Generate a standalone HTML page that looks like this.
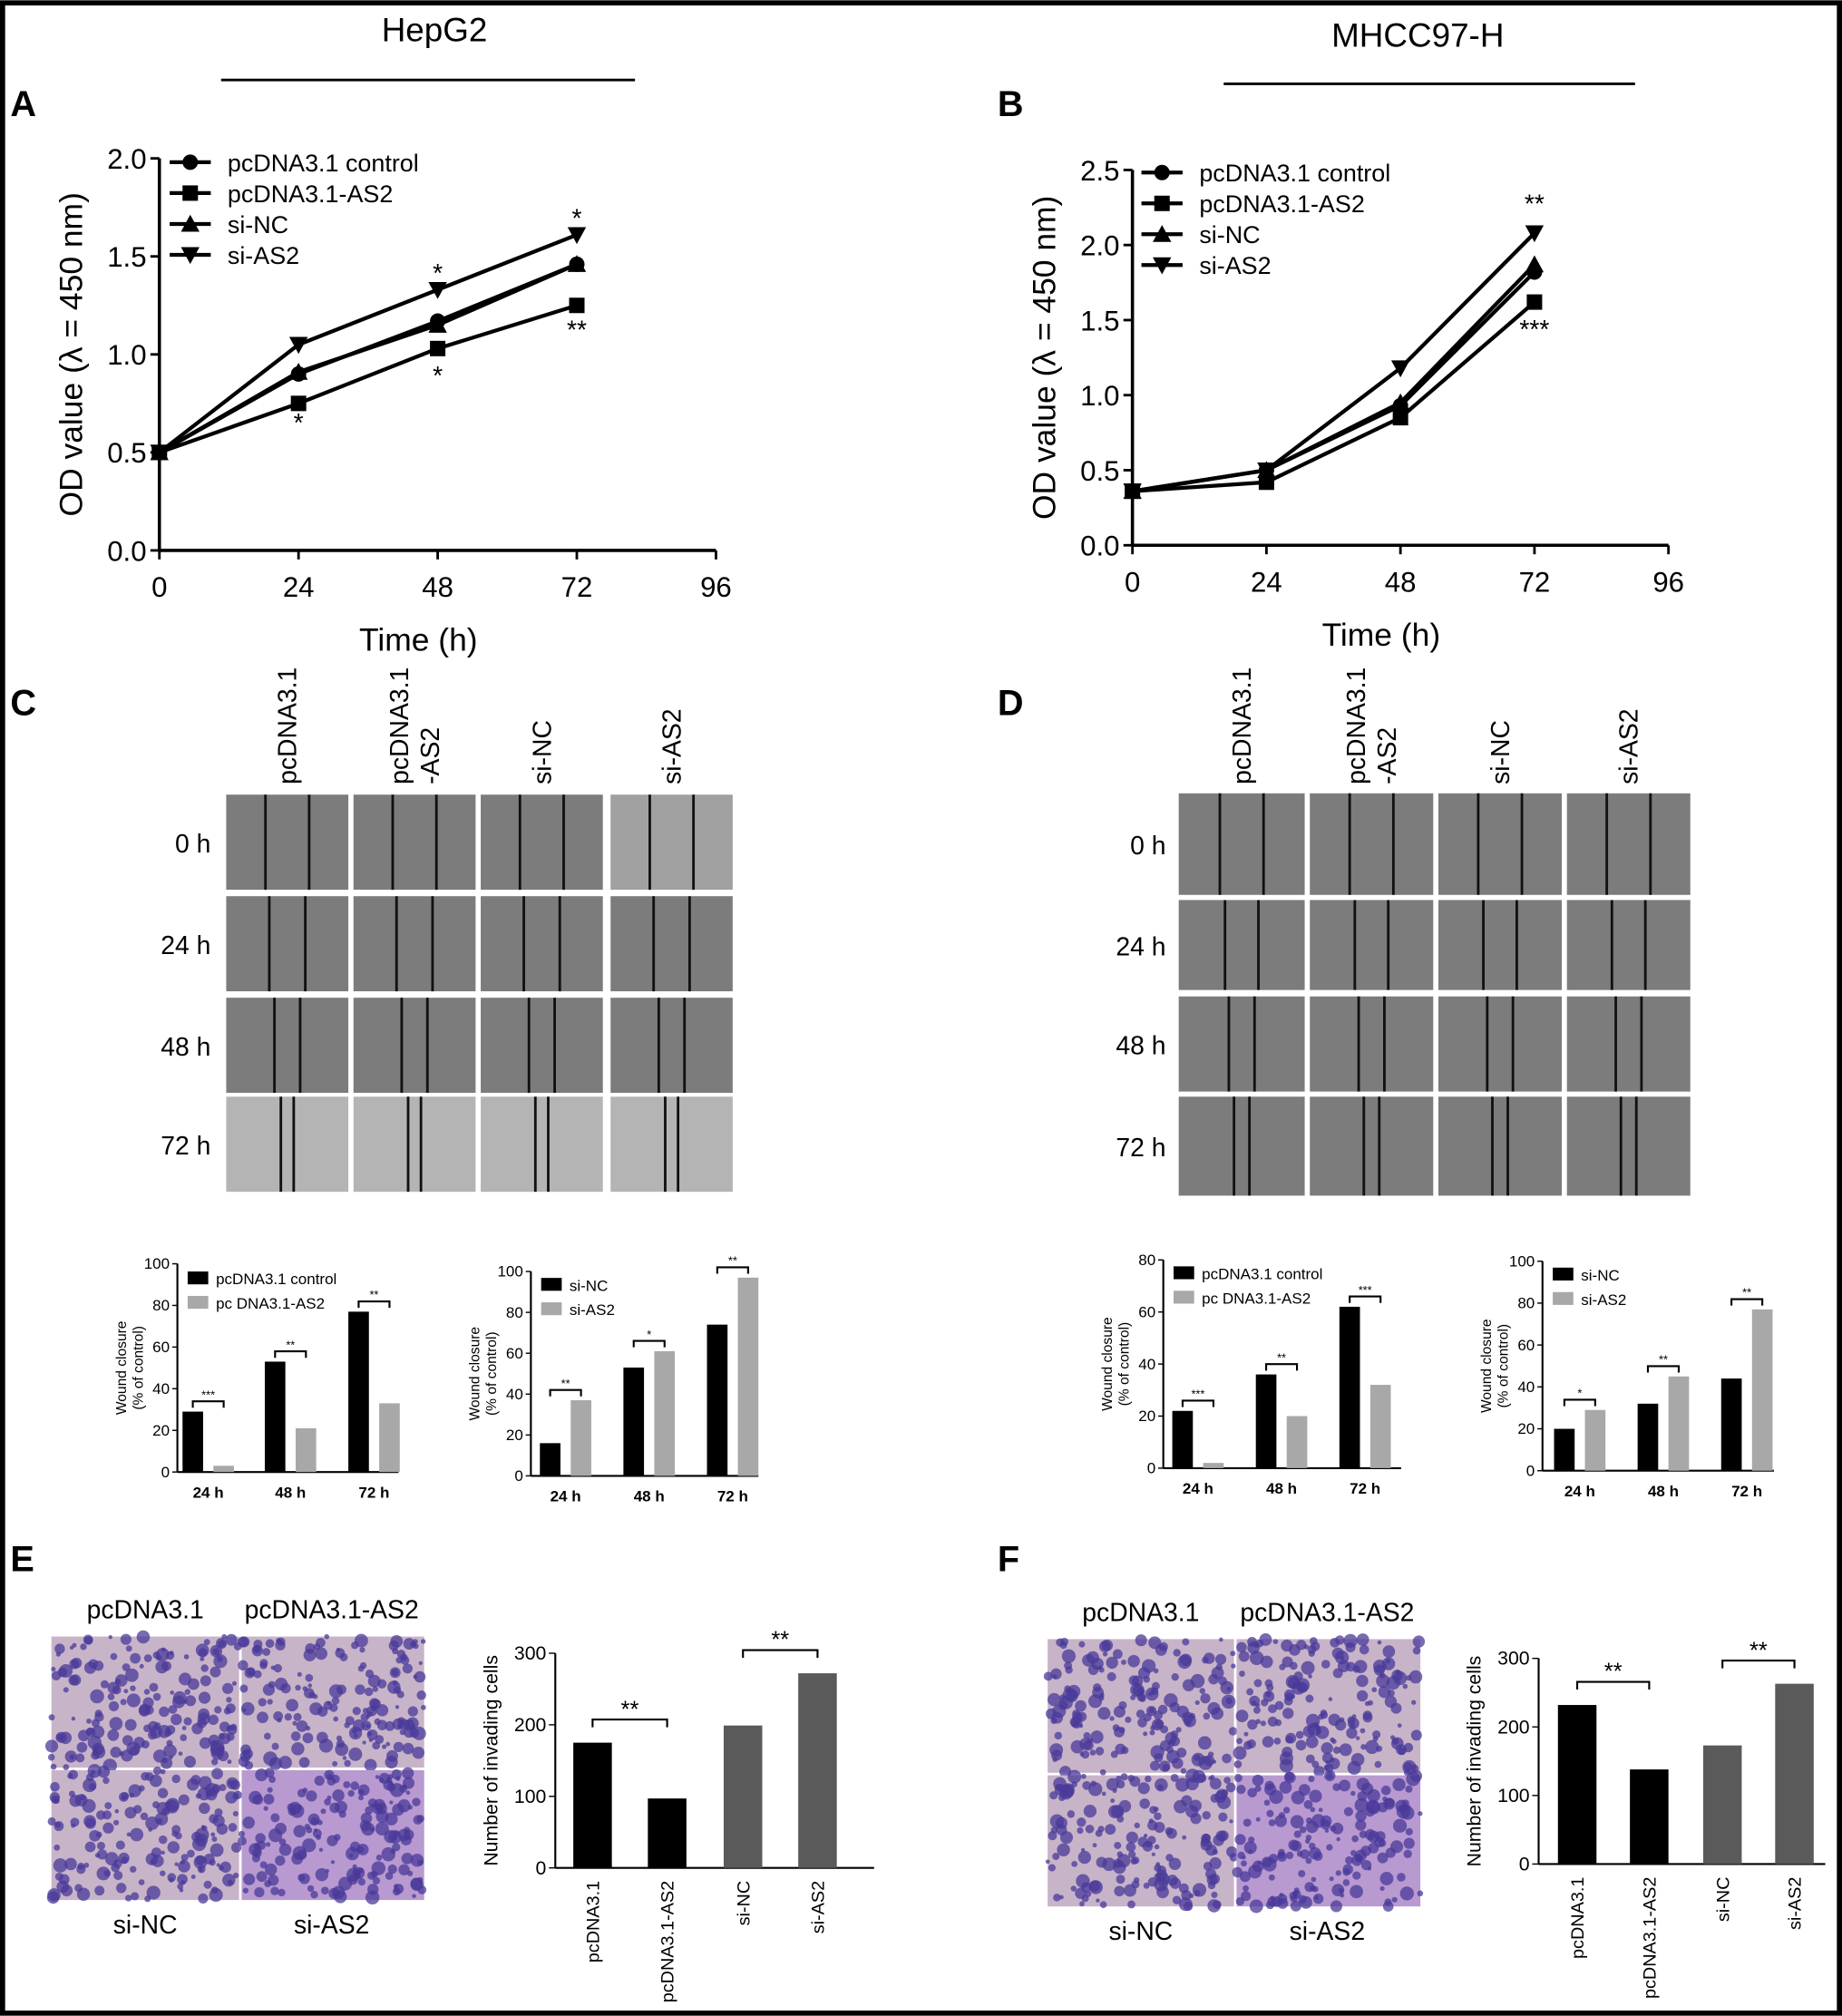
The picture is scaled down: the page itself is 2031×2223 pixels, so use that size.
<!DOCTYPE html>
<html><head><meta charset="utf-8"><style>
html,body{margin:0;padding:0;background:#fff}
svg{display:block}
text{font-family:"Liberation Sans",Arial,sans-serif}
</style></head><body>
<svg id="fig" width="2031" height="2223" viewBox="0 0 1433 1568" xmlns="http://www.w3.org/2000/svg">
<rect x="2" y="2" width="1429" height="1564" fill="#fff" stroke="#000" stroke-width="4"/>
<g>
<text x="338" y="32" font-size="26" text-anchor="middle">HepG2</text>
<line x1="172" y1="62" x2="494" y2="62" stroke="#000" stroke-width="2"/>
<text x="1103" y="36" font-size="26" text-anchor="middle">MHCC97-H</text>
<line x1="952" y1="65" x2="1272" y2="65" stroke="#000" stroke-width="2"/>
<text x="8" y="90" font-size="28" font-weight="bold">A</text>
<text x="776" y="90" font-size="28" font-weight="bold">B</text>
<text x="8" y="556" font-size="28" font-weight="bold">C</text>
<text x="776" y="556" font-size="28" font-weight="bold">D</text>
<text x="8" y="1222" font-size="28" font-weight="bold">E</text>
<text x="776" y="1222" font-size="28" font-weight="bold">F</text>
</g>
<g id="root"></g>
</svg>
<script>
// ---- Line chart data ----
const timeCats=[0,24,48,72];
const xTicks=[0,24,48,72,96];
const seriesNames=["pcDNA3.1 control","pcDNA3.1-AS2","si-NC","si-AS2"];
const aCtrl=[0.5,0.9,1.17,1.46];
const aAS2=[0.5,0.75,1.03,1.25];
const aNC=[0.5,0.91,1.15,1.46];
const aSiAS2=[0.5,1.05,1.33,1.61];
const aYTicks=[0,0.5,1.0,1.5,2.0];
const bCtrl=[0.36,0.5,0.93,1.82];
const bAS2=[0.36,0.42,0.85,1.62];
const bNC=[0.36,0.5,0.95,1.87];
const bSiAS2=[0.36,0.5,1.18,2.08];
const bYTicks=[0,0.5,1.0,1.5,2.0,2.5];
// ---- Wound closure bar data ----
const woundCats=["24 h","48 h","72 h"];
const c1Black=[29,53,77], c1Gray=[3,21,33];
const c2Black=[16,53,74], c2Gray=[37,61,97];
const d1Black=[22,36,62], d1Gray=[2,20,32];
const d2Black=[20,32,44], d2Gray=[29,45,77];
const tick100=[0,20,40,60,80,100];
const tick80=[0,20,40,60,80];
// ---- Invasion data ----
const invCats=["pcDNA3.1","pcDNA3.1-AS2","si-NC","si-AS2"];
const eInv=[175,97,199,272];
const fInv=[232,138,173,263];
const invTicks=[0,100,200,300];

const NS="http://www.w3.org/2000/svg";
const root=document.getElementById('root');
function mk(tag,attrs,parent,txt){const e=document.createElementNS(NS,tag);for(const k in attrs)e.setAttribute(k,attrs[k]);if(txt!==undefined)e.textContent=txt;(parent||root).appendChild(e);return e;}
function grp(name){const g=mk('g',{});return g;}

function marker(g,type,x,y,s){
 if(type===0)mk('circle',{cx:x,cy:y,r:s,fill:'#000'},g);
 else if(type===1)mk('rect',{x:x-s,y:y-s,width:2*s,height:2*s,fill:'#000'},g);
 else if(type===2)mk('polygon',{points:`${x},${y-s*1.2} ${x-s*1.2},${y+s} ${x+s*1.2},${y+s}`,fill:'#000'},g);
 else mk('polygon',{points:`${x},${y+s*1.2} ${x-s*1.2},${y-s} ${x+s*1.2},${y-s}`,fill:'#000'},g);
}

function lineChart(name,o,series,yt,stars){
 const g=grp(name);
 const X=v=>o.x0+(v/96)*(o.x1-o.x0);
 const Y=v=>o.y0-(v/o.ymax)*(o.y0-o.y1);
 mk('line',{x1:o.x0,y1:o.y0,x2:o.x1,y2:o.y0,stroke:'#000','stroke-width':2.5},g);
 mk('line',{x1:o.x0,y1:o.y0,x2:o.x0,y2:Y(o.ymax),stroke:'#000','stroke-width':2.5},g);
 xTicks.forEach(t=>{mk('line',{x1:X(t),y1:o.y0,x2:X(t),y2:o.y0+7,stroke:'#000','stroke-width':2},g);
  mk('text',{x:X(t),y:o.y0+36,'font-size':22,'text-anchor':'middle'},g,t);});
 yt.forEach(t=>{mk('line',{x1:o.x0-7,y1:Y(t),x2:o.x0,y2:Y(t),stroke:'#000','stroke-width':2},g);
  mk('text',{x:o.x0-10,y:Y(t)+8,'font-size':22,'text-anchor':'end'},g,t.toFixed(1));});
 mk('text',{x:(o.x0+o.x1)/2-15,y:o.y0+78,'font-size':25,'text-anchor':'middle'},g,'Time (h)');
 mk('text',{x:0,y:0,'font-size':25,'text-anchor':'middle',transform:`translate(${o.x0-60},${(o.y0+Y(o.ymax))/2}) rotate(-90)`},g,'OD value (\u03bb = 450 nm)');
 series.forEach((s,i)=>{
  const pts=timeCats.map((t,j)=>X(t)+','+Y(s[j])).join(' ');
  const pl=mk('polyline',{points:pts,fill:'none',stroke:'#000','stroke-width':3},g);
  
  
  timeCats.forEach((t,j)=>marker(g,i,X(t),Y(s[j]),6));
  // legend
  const ly=o.ly+i*24;
  mk('line',{x1:o.lx,y1:ly,x2:o.lx+32,y2:ly,stroke:'#000','stroke-width':3},g);
  marker(g,i,o.lx+16,ly,6);
  mk('text',{x:o.lx+45,y:ly+7,'font-size':19},g,seriesNames[i]);
 });
 stars.forEach(s=>mk('text',{x:X(s[0]),y:Y(s[1])+s[2],'font-size':20,'text-anchor':'middle'},g,s[3]));
}
lineChart('chart-a',{x0:124,x1:557,y0:428,y1:123,ymax:2.0,lx:132,ly:126},[aCtrl,aAS2,aNC,aSiAS2],aYTicks,
 [[24,aAS2[1],22,'*'],[48,aSiAS2[2],-6,'*'],[48,aAS2[2],28,'*'],[72,aSiAS2[3],-6,'*'],[72,aAS2[3],26,'**']]);
lineChart('chart-b',{x0:881,x1:1298,y0:424,y1:132,ymax:2.5,lx:888,ly:134},[bCtrl,bAS2,bNC,bSiAS2],bYTicks,
 [[72,bSiAS2[3],-16,'**'],[72,bAS2[3],28,'***']]);

// ---- Wound images ----
function woundGrid(name,cols,rows,labels,lx,colLabels,lineSets){
 const g=grp(name);
 rows.forEach((r,ri)=>{
  mk('text',{x:lx,y:(r[0]+r[1])/2+8,'font-size':20,'text-anchor':'end'},g,labels[ri]);
  cols.forEach((c,ci)=>{
   const fill=ri===3&&name==='wound-grid-c'?'#b4b4b4':(ci===3&&ri===0&&name==='wound-grid-c'?'#a0a0a0':'#7c7c7c');
   mk('rect',{x:c[0],y:r[0],width:c[1]-c[0],height:r[1]-r[0],fill:fill},g);
   const w=c[1]-c[0];const gap=lineSets[ri];const cx=(c[0]+c[1])/2;
   mk('line',{x1:cx-gap/2,y1:r[0],x2:cx-gap/2,y2:r[1],stroke:'#111','stroke-width':2},g);
   mk('line',{x1:cx+gap/2,y1:r[0],x2:cx+gap/2,y2:r[1],stroke:'#111','stroke-width':2},g);
  });
 });
 colLabels.forEach((l,i)=>{const cx=(cols[i][0]+cols[i][1])/2;
  const lines=l.split('|');
  lines.forEach((t,k)=>mk('text',{x:0,y:0,'font-size':20,'text-anchor':'start',transform:`translate(${cx+7-(lines.length-1)*12+k*24},${610}) rotate(-90)`},g,t));});
}
const wlabels=["0 h","24 h","48 h","72 h"];
const clabels=["pcDNA3.1","pcDNA3.1|-AS2","si-NC","si-AS2"];
woundGrid('wound-grid-c',[[176,271],[275,370],[374,469],[475,570]],[[618,692],[697,771],[776,850],[853,927]],wlabels,164,clabels,[34,28,20,10]);
woundGrid('wound-grid-d',[[917,1015],[1019,1115],[1119,1215],[1219,1315]],[[617,696],[700,770],[775,849],[853,930]],wlabels,907,clabels,[34,26,20,12]);

// ---- Wound bar charts ----
function woundBar(name,o,blk,gry,ticks,legend,sig){
 const g=grp(name);
 const Y=v=>o.y0-(v/o.ymax)*(o.y0-o.y1);
 mk('line',{x1:o.x0,y1:o.y0,x2:o.x1,y2:o.y0,stroke:'#000','stroke-width':1.5},g);
 mk('line',{x1:o.x0,y1:o.y0,x2:o.x0,y2:Y(o.ymax),stroke:'#000','stroke-width':1.5},g);
 ticks.forEach(t=>{mk('line',{x1:o.x0-4,y1:Y(t),x2:o.x0,y2:Y(t),stroke:'#000'},g);
  mk('text',{x:o.x0-6,y:Y(t)+4,'font-size':12,'text-anchor':'end'},g,t);});
 mk('text',{x:0,y:0,'font-size':11,'text-anchor':'middle',transform:`translate(${o.x0-40},${(o.y0+o.y1)/2}) rotate(-90)`},g,'Wound closure');
 mk('text',{x:0,y:0,'font-size':11,'text-anchor':'middle',transform:`translate(${o.x0-27},${(o.y0+o.y1)/2}) rotate(-90)`},g,'(% of control)');
 woundCats.forEach((c,i)=>{
  const cx=o.cx[i];
  const b=mk('rect',{x:cx-20,y:Y(blk[i]),width:16,height:o.y0-Y(blk[i]),fill:'#000'},g);
  
  
  const r=mk('rect',{x:cx+4,y:Y(gry[i]),width:16,height:o.y0-Y(gry[i]),fill:'#a8a8a8'},g);
  
  
  mk('text',{x:cx,y:o.y0+20,'font-size':12,'font-weight':'bold','text-anchor':'middle'},g,c);
  const top=Math.min(Y(blk[i]),Y(gry[i]))-8;
  mk('path',{d:`M${cx-12},${top+5}V${top}H${cx+12}V${top+5}`,fill:'none',stroke:'#000','stroke-width':1.5},g);
  mk('text',{x:cx,y:top-2,'font-size':9,'text-anchor':'middle'},g,sig[i]);
 });
 legend.forEach((l,i)=>{mk('rect',{x:o.lx,y:o.ly+i*19-6,width:16,height:10,fill:i?'#a8a8a8':'#000'},g);
  mk('text',{x:o.lx+22,y:o.ly+i*19+4,'font-size':12},g,l);});
}
woundBar('wound-bar-c1',{x0:138,x1:310,y0:1145,y1:983,ymax:100,cx:[162,226,291],lx:146,ly:995},c1Black,c1Gray,tick100,["pcDNA3.1 control","pc DNA3.1-AS2"],["***","**","**"]);
woundBar('wound-bar-c2',{x0:413,x1:590,y0:1148,y1:989,ymax:100,cx:[440,505,570],lx:421,ly:1000},c2Black,c2Gray,tick100,["si-NC","si-AS2"],["**","*","**"]);
woundBar('wound-bar-d1',{x0:905,x1:1090,y0:1142,y1:980,ymax:80,cx:[932,997,1062],lx:913,ly:991},d1Black,d1Gray,tick80,["pcDNA3.1 control","pc DNA3.1-AS2"],["***","**","***"]);
woundBar('wound-bar-d2',{x0:1200,x1:1380,y0:1144,y1:981,ymax:100,cx:[1229,1294,1359],lx:1208,ly:992},d2Black,d2Gray,tick100,["si-NC","si-AS2"],["*","**","**"]);

// ---- Invasion images ----
let seed=7;function rnd(){seed=(seed*16807)%2147483647;return seed/2147483647;}
function invImages(name,x0,y0,xm,ym,x1,y1,labTop,labBot){
 const g=grp(name);
 const quads=[[x0,y0,xm,ym],[xm+2,y0,x1,ym],[x0,ym+2,xm,y1],[xm+2,ym+2,x1,y1]];
 quads.forEach((q,qi)=>{
  mk('rect',{x:q[0],y:q[1],width:q[2]-q[0],height:q[3]-q[1],fill:qi===3?'#b89ad0':'#c8b4c8'},g);
  for(let k=0;k<170;k++){mk('circle',{cx:q[0]+rnd()*(q[2]-q[0]),cy:q[1]+rnd()*(q[3]-q[1]),r:1.5+rnd()*4,fill:'#4a3a9a','fill-opacity':0.75},g);}
 });
 mk('text',{x:(x0+xm)/2,y:y0-14,'font-size':20,'text-anchor':'middle'},g,labTop[0]);
 mk('text',{x:(xm+x1)/2,y:y0-14,'font-size':20,'text-anchor':'middle'},g,labTop[1]);
 mk('text',{x:(x0+xm)/2,y:y1+26,'font-size':20,'text-anchor':'middle'},g,labBot[0]);
 mk('text',{x:(xm+x1)/2,y:y1+26,'font-size':20,'text-anchor':'middle'},g,labBot[1]);
}
invImages('invasion-images-e',40,1273,186,1375,330,1478,["pcDNA3.1","pcDNA3.1-AS2"],["si-NC","si-AS2"]);
invImages('invasion-images-f',815,1275,960,1379,1105,1483,["pcDNA3.1","pcDNA3.1-AS2"],["si-NC","si-AS2"]);

function invBar(name,o,vals){
 const g=grp(name);
 const Y=v=>o.y0-(v/300)*(o.y0-o.y1);
 mk('line',{x1:o.x0,y1:o.y0,x2:o.x1,y2:o.y0,stroke:'#000','stroke-width':1.5},g);
 mk('line',{x1:o.x0,y1:o.y0,x2:o.x0,y2:o.y1,stroke:'#000','stroke-width':1.5},g);
 invTicks.forEach(t=>{mk('line',{x1:o.x0-5,y1:Y(t),x2:o.x0,y2:Y(t),stroke:'#000'},g);
  mk('text',{x:o.x0-7,y:Y(t)+5,'font-size':15,'text-anchor':'end'},g,t);});
 mk('text',{x:0,y:0,'font-size':15,'text-anchor':'middle',transform:`translate(${o.x0-45},${(o.y0+o.y1)/2}) rotate(-90)`},g,'Number of invading cells');
 invCats.forEach((c,i)=>{
  const cx=o.cx[i];
  const b=mk('rect',{x:cx-15,y:Y(vals[i]),width:30,height:o.y0-Y(vals[i]),fill:i<2?'#000':'#5a5a5a'},g);
  
  
  mk('text',{x:0,y:0,'font-size':14,'text-anchor':'end',transform:`translate(${cx+5},${o.y0+10}) rotate(-90)`},g,c);
 });
 [[0,1],[2,3]].forEach(p=>{const t=Math.min(Y(vals[p[0]]),Y(vals[p[1]]))-18;
  mk('path',{d:`M${o.cx[p[0]]},${t+6}V${t}H${o.cx[p[1]]}V${t+6}`,fill:'none',stroke:'#000','stroke-width':1.5},g);
  mk('text',{x:(o.cx[p[0]]+o.cx[p[1]])/2,y:t-2,'font-size':18,'text-anchor':'middle'},g,'**');});
}
invBar('invasion-bar-e',{x0:432,x1:680,y0:1453,y1:1286,cx:[461,519,578,636]},eInv);
invBar('invasion-bar-f',{x0:1197,x1:1420,y0:1450,y1:1290,cx:[1227,1283,1340,1396]},fInv);
</script>
</body></html>
